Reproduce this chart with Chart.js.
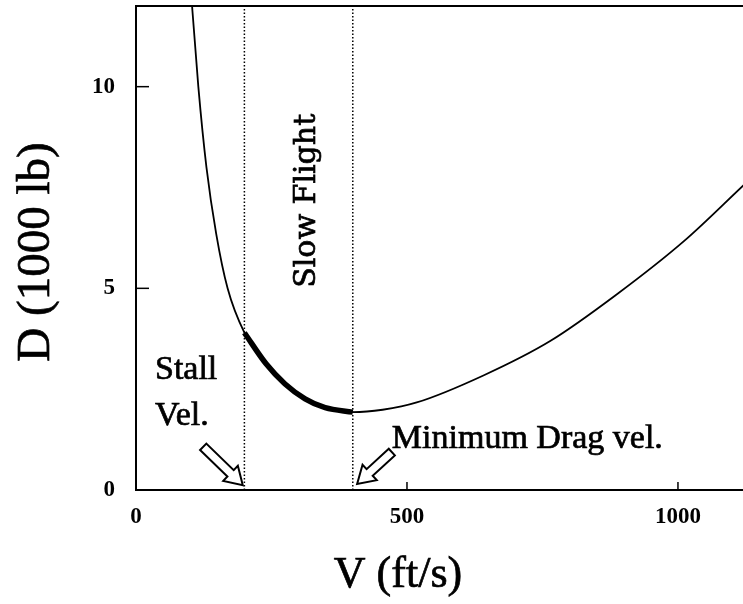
<!DOCTYPE html>
<html lang="en">
<head>
    <meta charset="UTF-8">
    <title>Drag vs velocity</title>
    <script src="https://cdn.jsdelivr.net/npm/chart.js"></script>
    <style>
        body { margin: 0; background: #fff; }
        #wrap { width: 743px; height: 604px; }
    </style>
</head>
<body>
    <div id="wrap"><canvas id="dragChart"></canvas></div>

    <script>
        // drag curve, V in ft/s and D in 1000 lb
        const speeds = [100, 104, 115, 130, 148, 169, 200, 240, 275, 312, 349, 400, 455, 518, 641, 765, 888, 1011, 1122];
        const drag   = [12.7, 11.9, 10.0, 8.0, 6.35, 5.0, 3.9, 3.13, 2.63, 2.26, 2.04, 1.93, 1.99, 2.17, 2.84, 3.70, 4.86, 6.17, 7.57];

        const stallVel = 200;
        const minDragVel = 400;

        const xTicks = [0, 500, 1000];
        const yTicks = [0, 5, 10];

        const serif = "'Liberation Serif', 'Times New Roman', serif";

        const curve = speeds.map((v, i) => ({ x: v, y: drag[i] }));
        const slowPart = curve.filter(p => p.x >= stallVel && p.x <= minDragVel);

        function vLine(v) {
            return {
                data: [{ x: v, y: 0 }, { x: v, y: 12 }],
                borderColor: '#000',
                borderWidth: 1.5,
                borderDash: [1.5, 2],
                pointRadius: 0,
                showLine: true
            };
        }

        // annotation anchors, in data units
        const stallArrow = { from: [124, 1.07], to: [197, 0.12] };
        const minArrow = { from: [472, 0.94], to: [408, 0.15] };

        function drawArrow(ctx, x, y, a) {
            const x0 = x.getPixelForValue(a.from[0]), y0 = y.getPixelForValue(a.from[1]);
            const x1 = x.getPixelForValue(a.to[0]), y1 = y.getPixelForValue(a.to[1]);
            const len = Math.hypot(x1 - x0, y1 - y0);
            const ux = (x1 - x0) / len, uy = (y1 - y0) / len;
            const nx = -uy, ny = ux;
            const w = 4.5, hw = 10.5, hl = 17;
            const bx = x1 - ux * hl, by = y1 - uy * hl;
            ctx.beginPath();
            ctx.moveTo(x0 + nx * w, y0 + ny * w);
            ctx.lineTo(bx + nx * w, by + ny * w);
            ctx.lineTo(bx + nx * hw, by + ny * hw);
            ctx.lineTo(x1, y1);
            ctx.lineTo(bx - nx * hw, by - ny * hw);
            ctx.lineTo(bx - nx * w, by - ny * w);
            ctx.lineTo(x0 - nx * w, y0 - ny * w);
            ctx.closePath();
            ctx.fillStyle = '#fff';
            ctx.fill();
            ctx.lineWidth = 2;
            ctx.stroke();
        }

        // scanned look: fill and a thin stroke
        function heavyText(ctx, txt, px, py) {
            ctx.fillText(txt, px, py);
            ctx.strokeText(txt, px, py);
        }

        const annotate = {
            id: 'annotate',
            afterDraw(chart) {
                const { ctx, chartArea: a, scales: { x, y } } = chart;
                ctx.save();
                ctx.strokeStyle = '#000';
                ctx.fillStyle = '#000';
                ctx.lineWidth = 2;

                // top frame
                ctx.beginPath();
                ctx.moveTo(a.left, a.top);
                ctx.lineTo(a.right, a.top);
                ctx.stroke();

                // inward tick marks
                ctx.lineWidth = 1.5;
                yTicks.slice(1).forEach(t => {
                    const py = y.getPixelForValue(t);
                    ctx.beginPath(); ctx.moveTo(a.left, py); ctx.lineTo(a.left + 13, py); ctx.stroke();
                });
                xTicks.slice(1).forEach(t => {
                    const px = x.getPixelForValue(t);
                    ctx.beginPath(); ctx.moveTo(px, a.bottom); ctx.lineTo(px, a.bottom - 8); ctx.stroke();
                });

                // labels
                ctx.lineWidth = 0.7;
                ctx.textAlign = 'left';
                ctx.textBaseline = 'alphabetic';
                ctx.font = '34px ' + serif;
                heavyText(ctx, 'Stall', x.getPixelForValue(35), y.getPixelForValue(2.75));
                heavyText(ctx, 'Vel.', x.getPixelForValue(35), y.getPixelForValue(1.61));
                heavyText(ctx, 'Minimum Drag vel.', x.getPixelForValue(472), y.getPixelForValue(1.04));

                ctx.save();
                ctx.translate(x.getPixelForValue(330), y.getPixelForValue(7.17));
                ctx.rotate(-Math.PI / 2);
                ctx.textAlign = 'center';
                ctx.font = "30px 'DejaVu Serif', serif";
                heavyText(ctx, 'Slow Flight', 0, 0);
                ctx.restore();

                // axis titles
                ctx.textAlign = 'center';
                ctx.font = '44px ' + serif;
                heavyText(ctx, 'V (ft/s)', 398, 587);
                ctx.save();
                ctx.translate(49, 252);
                ctx.rotate(-Math.PI / 2);
                ctx.font = '47px ' + serif;
                heavyText(ctx, 'D (1000 lb)', 0, 0);
                ctx.restore();

                // hollow arrows
                drawArrow(ctx, x, y, stallArrow);
                drawArrow(ctx, x, y, minArrow);

                ctx.restore();
            }
        };

        const ctxDrag = document.getElementById('dragChart').getContext('2d');
        new Chart(ctxDrag, {
            type: 'scatter',
            data: {
                datasets: [
                    vLine(stallVel),
                    vLine(minDragVel),
                    {
                        data: curve,
                        borderColor: '#000',
                        borderWidth: 1.8,
                        pointRadius: 0,
                        showLine: true,
                        cubicInterpolationMode: 'monotone'
                    },
                    {
                        data: slowPart,
                        borderColor: '#000',
                        borderWidth: 5.5,
                        pointRadius: 0,
                        showLine: true,
                        cubicInterpolationMode: 'monotone'
                    }
                ]
            },
            options: {
                responsive: true,
                maintainAspectRatio: false,
                animation: false,
                layout: { padding: { top: 6, right: 0, left: 0, bottom: 0 } },
                plugins: { legend: { display: false }, tooltip: { enabled: false } },
                scales: {
                    x: {
                        type: 'linear',
                        min: 0,
                        max: 1120,
                        grid: { display: false },
                        border: { display: true, color: '#000', width: 2 },
                        afterBuildTicks: s => { s.ticks = xTicks.map(v => ({ value: v })); },
                        afterFit: s => { s.height = 114; s.paddingLeft = 0; s.paddingRight = 0; },
                        ticks: {
                            color: '#000',
                            padding: 5,
                            maxRotation: 0,
                            callback: v => String(v),
                            font: { family: serif, size: 23, weight: 'bold' }
                        }
                    },
                    y: {
                        min: 0,
                        max: 12,
                        grid: { display: false },
                        border: { display: true, color: '#000', width: 2 },
                        afterBuildTicks: s => { s.ticks = yTicks.map(v => ({ value: v })); },
                        afterFit: s => { s.width = 136; s.paddingTop = 0; s.paddingBottom = 0; },
                        ticks: {
                            color: '#000',
                            padding: 13,
                            font: { family: serif, size: 23, weight: 'bold' }
                        }
                    }
                }
            },
            plugins: [annotate]
        });
    </script>
</body>
</html>
